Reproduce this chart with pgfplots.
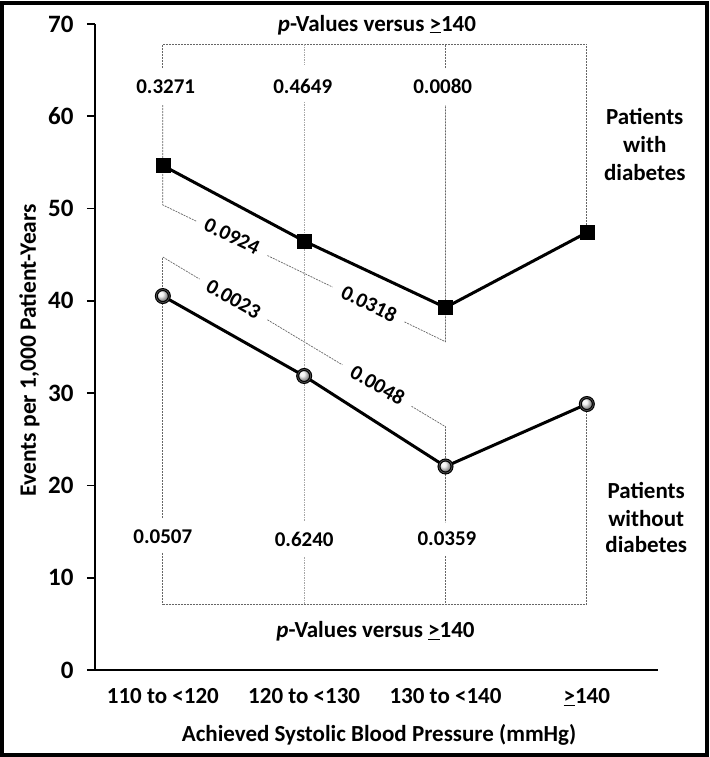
\documentclass[border=0pt]{standalone}
\usepackage{fontspec}
\setmainfont{Carlito}
\usepackage{pgfplots}
\pgfplotsset{compat=1.18}
\pgfdeclareplotmark{oball}{%
  \shade[ball color=gray!12] (0pt,0pt) circle (\pgfplotmarksize);
  \draw[black!70, line width=0.8pt] (0pt,0pt) circle (\pgfplotmarksize);
}
\begin{document}
\begin{tikzpicture}[x=1pt,y=1pt,
  rlab/.style={font=\fontsize{21}{21}\selectfont\bfseries, inner sep=0pt}]
\useasboundingbox (0,0) rectangle (709,757);
\draw[line width=4pt] (2,2) rectangle (707,754);
\begin{axis}[
  at={(95pt,87pt)}, anchor=south west,
  scale only axis, width=562.5pt, height=646pt,
  xmin=-0.48, xmax=3.5, ymin=0, ymax=70,
  axis x line*=bottom, axis y line*=left,
  axis line style={line width=1.6pt},
  xtick={0,1,2,3},
  xticklabels={110 to <120, 120 to <130, 130 to <140, \underline{>}140},
  x tick style={draw=none},
  ytick={0,10,...,70},
  tick align=outside,
  y tick style={line width=1.6pt, black},
  major tick length=8pt,
  /pgf/number format/assume math mode=true,
  yticklabel style={font=\fontsize{25}{25}\selectfont\bfseries, xshift=-10pt},
  xticklabel style={font=\fontsize{23}{23}\selectfont\bfseries, anchor=base, yshift=-26pt},
  xlabel={Achieved Systolic Blood Pressure (mmHg)},
  ylabel={Events per 1,000 Patient-Years},
  xlabel style={font=\fontsize{23}{23}\selectfont\bfseries, at={(axis description cs:0.505,0)}, anchor=base, yshift=-71pt},
  ylabel style={font=\fontsize{23.5}{23.5}\selectfont\bfseries, at={(axis description cs:-0.1049,0.495)}, anchor=base},
  clip=false,
  bracket/.style={black!60, line width=0.7pt, dash pattern=on 2pt off 1pt},
  lightbracket/.style={black!35, line width=0.6pt, dash pattern=on 1.5pt off 1pt},
]
% top bracket
\addplot[bracket] coordinates {(0,65.23) (0,67.83) (3,67.83) (3,47.4)};
\addplot[bracket] coordinates {(0,61.22) (0,50.39) (0.24,48.61)};
\addplot[bracket] coordinates {(0.74,44.91) (1.20,41.50)};
\addplot[bracket] coordinates {(1.71,37.72) (2,35.57) (2,61.22)};
\addplot[bracket] coordinates {(2,65.23) (2,67.83)};
% bottom bracket
\addplot[bracket] coordinates {(0,12.7) (0,7.15) (3,7.15) (3,28.82)};
\addplot[bracket] coordinates {(0,16.5) (0,44.75)};
\addplot[bracket] coordinates {(0,44.75) (0.26,42.36)};
\addplot[bracket] coordinates {(0.74,37.95) (1.27,33.07)};
\addplot[bracket] coordinates {(1.76,28.57) (2,26.36) (2,16.0)};
\addplot[bracket] coordinates {(2,12.35) (2,7.15)};
% middle category line
\addplot[lightbracket] coordinates {(1,67.83) (1,65.55)};
\addplot[lightbracket] coordinates {(1,61.55) (1,16.14)};
\addplot[lightbracket] coordinates {(1,12.24) (1,7.15)};
% labels
\node[font=\fontsize{23}{23}\selectfont\bfseries, anchor=base] at (axis cs:1.515,69.24) {\textit{p}-Values versus \underline{>}140};
\node[font=\fontsize{23}{23}\selectfont\bfseries, anchor=base] at (axis cs:1.505,3.47) {\textit{p}-Values versus \underline{>}140};
\node[font=\fontsize{21}{21}\selectfont\bfseries, anchor=base] at (axis cs:0.02,62.52) {0.3271};
\node[font=\fontsize{21}{21}\selectfont\bfseries, anchor=base] at (axis cs:0.99,62.52) {0.4649};
\node[font=\fontsize{21}{21}\selectfont\bfseries, anchor=base] at (axis cs:1.98,62.52) {0.0080};
\node[font=\fontsize{21}{21}\selectfont\bfseries, anchor=base] at (axis cs:0,13.76) {0.0507};
\node[font=\fontsize{21}{21}\selectfont\bfseries, anchor=base] at (axis cs:1,13.33) {0.6240};
\node[font=\fontsize{21}{21}\selectfont\bfseries, anchor=base] at (axis cs:2.01,13.54) {0.0359};
\node[rlab, rotate=-26] at (axis cs:0.49,47.0) {0.0924};
\node[rlab, rotate=-26] at (axis cs:1.46,39.7) {0.0318};
\node[rlab, rotate=-30] at (axis cs:0.5,40.2) {0.0023};
\node[rlab, rotate=-30] at (axis cs:1.52,30.9) {0.0048};
\node[font=\fontsize{23}{23}\selectfont\bfseries, anchor=base] at (axis cs:3.41,59.15) {Patients};
\node[font=\fontsize{23}{23}\selectfont\bfseries, anchor=base] at (axis cs:3.41,56.12) {with};
\node[font=\fontsize{23}{23}\selectfont\bfseries, anchor=base] at (axis cs:3.41,53.08) {diabetes};
\node[font=\fontsize{23}{23}\selectfont\bfseries, anchor=base] at (axis cs:3.42,18.63) {Patients};
\node[font=\fontsize{23}{23}\selectfont\bfseries, anchor=base] at (axis cs:3.42,15.60) {without};
\node[font=\fontsize{23}{23}\selectfont\bfseries, anchor=base] at (axis cs:3.42,12.68) {diabetes};
% data
\addplot[black, line width=3pt, mark=square*, mark size=7pt, mark options={solid, fill=black, line width=0.5pt}]
  coordinates {(0,54.66) (1,46.48) (2,39.28) (3,47.40)};
\addplot[black, line width=3pt, mark=oball, mark size=6.5pt]
  coordinates {(0,40.52) (1,31.86) (2,22.05) (3,28.82)};
\end{axis}
\end{tikzpicture}
\end{document}
